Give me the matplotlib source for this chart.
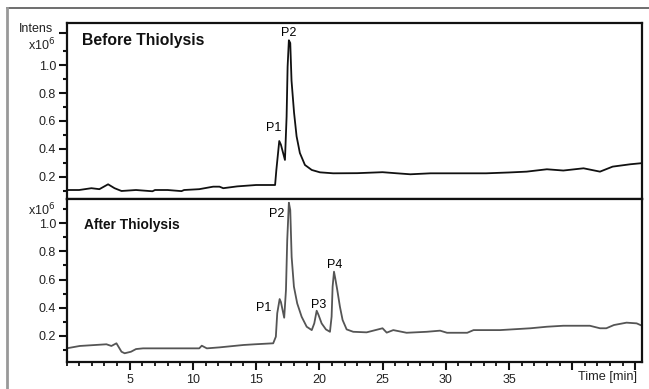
import matplotlib
matplotlib.use("Agg")
import matplotlib.pyplot as plt
from matplotlib.lines import Line2D
from matplotlib.ticker import MultipleLocator, FixedLocator

plt.rcParams['font.family'] = ['Liberation Sans', 'DejaVu Sans']

# ---- data (intensity in x10^6, time in min) ----
before_t = [0.0, 1.0, 1.97, 2.6, 3.29, 3.8, 4.35, 5.5, 6.8, 7.0, 8.0, 9.1, 9.3, 10.5, 11.6, 12.1, 12.4,
            13.5, 15.0, 16.5, 16.6, 16.83, 16.96, 17.28, 17.41, 17.49, 17.59, 17.7, 17.8, 18.0, 18.2,
            18.46, 18.86, 19.4, 20.05, 21.1, 23.0, 25.0, 26.0, 27.2, 28.8, 31.0, 33.2, 35.0, 36.4, 38.0,
            39.3, 40.9, 42.2, 43.2, 44.6, 45.4]
before_i = [0.104, 0.104, 0.117, 0.11, 0.145, 0.117, 0.097, 0.104, 0.095, 0.104, 0.104, 0.096, 0.104, 0.11, 0.128, 0.128, 0.117,
            0.13, 0.14, 0.14, 0.248, 0.456, 0.43, 0.32, 0.63, 0.99, 1.18, 1.16, 0.89, 0.66, 0.49,
            0.37, 0.284, 0.248, 0.231, 0.224, 0.225, 0.232, 0.225, 0.217, 0.224, 0.224, 0.224, 0.23, 0.236, 0.253,
            0.244, 0.26, 0.236, 0.272, 0.289, 0.296]

after_t = [0.0, 1.05, 3.16, 3.55, 3.95, 4.35, 4.6, 5.1, 5.5, 6.05, 8.0, 10.5, 10.7, 11.1, 12.1, 14.0, 14.9,
           16.35, 16.56, 16.67, 16.86, 16.96, 17.22, 17.36, 17.46, 17.59, 17.7, 17.81, 17.99, 18.25, 18.6,
           19.0, 19.4, 19.6, 19.79, 19.94, 20.18, 20.52, 20.84, 20.97, 21.05, 21.16, 21.26, 21.42, 21.63,
           21.84, 22.16, 22.68, 23.74, 25.0, 25.33, 25.85, 26.9, 28.5, 29.55, 30.1, 31.7, 32.2, 34.3, 36.7,
           38.0, 39.3, 41.4, 42.2, 42.7, 43.3, 44.3, 45.1, 45.4]
after_i = [0.11, 0.127, 0.139, 0.127, 0.146, 0.086, 0.075, 0.086, 0.105, 0.11, 0.11, 0.11, 0.129, 0.11, 0.117, 0.134, 0.139,
           0.146, 0.193, 0.36, 0.461, 0.44, 0.328, 0.525, 0.88, 1.147, 1.095, 0.76, 0.549, 0.43, 0.335,
           0.264, 0.24, 0.288, 0.378, 0.347, 0.288, 0.245, 0.228, 0.335, 0.549, 0.656, 0.608, 0.525, 0.406,
           0.312, 0.245, 0.228, 0.224, 0.253, 0.222, 0.24, 0.221, 0.228, 0.236, 0.221, 0.221, 0.24, 0.24, 0.253,
           0.264, 0.271, 0.271, 0.253, 0.253, 0.276, 0.293, 0.288, 0.276]

ytick_vals = [0.2, 0.4, 0.6, 0.8, 1.0]
ytick_labels = ['0.2', '0.4', '0.6', '0.8', '1.0']
xtick_vals = [5, 10, 15, 20, 25, 30, 35, 40, 45]
xtick_labels = ['5', '10', '15', '20', '25', '30', '35', '', '']

W, H = 649, 389
fig = plt.figure(figsize=(W / 100, H / 100), dpi=100)

def fx(px):
    return px / W

def fy(py):
    return 1 - py / H

left, right = 66.5, 641.7
ax1 = fig.add_axes([fx(left), fy(198.5), fx(right - left), fy(23) - fy(198.5)])
ax2 = fig.add_axes([fx(left), fy(361.7), fx(right - left), fy(198.5) - fy(361.7)])

ax1.plot(before_t, before_i, color='#111111', lw=1.3)
ax2.plot(after_t, after_i, color='#555555', lw=1.3)

ax1.set_ylim(0.043, 1.304)
ax2.set_ylim(0.015, 1.177)
for ax in (ax1, ax2):
    ax.set_xlim(0, 45.5)
    for s in ax.spines.values():
        s.set_linewidth(1.6)
        s.set_color('#111111')
    ax.yaxis.set_minor_locator(FixedLocator([0.1, 0.3, 0.5, 0.7, 0.9, 1.1]))
    ax.tick_params(axis='y', which='major', direction='out', length=5.5, width=1.5, pad=2,
                   labelsize=9, color='#111111', labelcolor='#222222')
    ax.tick_params(axis='y', which='minor', direction='out', length=3, width=1.5, color='#111111')

ax1.set_yticks(ytick_vals + [1.23])
ax1.set_yticklabels(ytick_labels + [''])
ax2.set_yticks(ytick_vals)
ax2.set_yticklabels(ytick_labels)

ax1.tick_params(axis='x', which='both', bottom=False, labelbottom=False)
ax2.set_xticks(xtick_vals)
ax2.set_xticklabels(xtick_labels)
ax2.xaxis.set_minor_locator(MultipleLocator(1))
ax2.tick_params(axis='x', which='major', direction='out', length=5.5, width=1.5, pad=3,
                labelsize=9, color='#111111', labelcolor='#222222')
ax2.tick_params(axis='x', which='minor', direction='out', length=3, width=1.3, color='#111111')

# axis captions
fig.text(fx(53), fy(29), 'Intens', ha='right', va='center', fontsize=9, color='#222222')
fig.text(fx(55), fy(45), 'x10$^6$', ha='right', va='center', fontsize=9, color='#222222')
fig.text(fx(55), fy(210), 'x10$^6$', ha='right', va='center', fontsize=9, color='#222222')
fig.text(fx(637), fy(377), 'Time [min]', ha='right', va='center', fontsize=9.2, color='#222222')

# panel titles
ax1.text(0.027, 0.9, 'Before Thiolysis', transform=ax1.transAxes, fontsize=11.3,
         fontweight='bold', ha='left', va='center', color='#111111')
ax2.text(0.031, 0.84, 'After Thiolysis', transform=ax2.transAxes, fontsize=9.9,
         fontweight='bold', ha='left', va='center', color='#111111')

# peak labels
ax1.text(16.4, 0.55, 'P1', ha='center', va='center', fontsize=9)
ax1.text(17.6, 1.235, 'P2', ha='center', va='center', fontsize=9)
ax2.text(15.6, 0.40, 'P1', ha='center', va='center', fontsize=9)
ax2.text(16.6, 1.065, 'P2', ha='center', va='center', fontsize=9)
ax2.text(19.95, 0.42, 'P3', ha='center', va='center', fontsize=9)
ax2.text(21.25, 0.70, 'P4', ha='center', va='center', fontsize=9)

# outer frame
fig.add_artist(Line2D([fx(7), 1.0], [fy(8), fy(8)], color='#555555', lw=1.2))
fig.add_artist(Line2D([fx(7), fx(7)], [fy(8), 0.0], color='#999999', lw=2.0))

fig.savefig('out.png', dpi=100)
